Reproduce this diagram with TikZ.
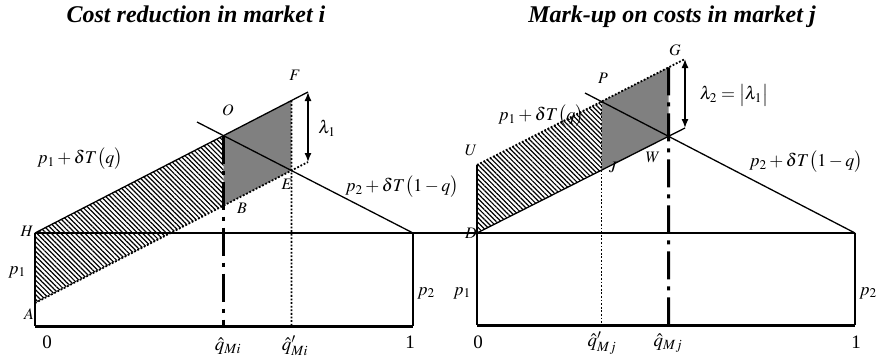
\documentclass[tikz,border=0pt]{standalone}
\usepackage{mathptmx}
\usepackage{fontspec}
\setmainfont{Liberation Serif}
\usetikzlibrary{patterns.meta,arrows.meta}
\begin{document}
\begin{tikzpicture}[x=1pt,y=-1pt,
  lbl/.style={font=\fontsize{16}{16}\selectfont, inner sep=0pt},
  eqn/.style={font=\fontsize{18}{18}\selectfont, inner sep=0pt},
  big/.style={font=\fontsize{19}{19}\selectfont, inner sep=0pt},
  ttl/.style={font=\fontsize{24}{24}\selectfont\bfseries\itshape, inner sep=0pt, anchor=base},
  solidln/.style={line width=1.3pt},
  dotln/.style={line width=1.8pt, dash pattern=on 1.8pt off 1.8pt},
  dashdot/.style={line width=3pt, dash pattern=on 28pt off 7pt on 4pt off 7pt},
  baseln/.style={line width=3pt},
  hatch/.style={pattern={Lines[angle=-45,distance=3.4pt,line width=1.2pt]}},
  dense/.style={fill=black!50},
  dbl/.style={line width=1.4pt, {Latex[length=9pt,width=7pt]}-{Latex[length=9pt,width=7pt]}}
]
\useasboundingbox (0,0) rectangle (879,360);
% ---------- left panel geometry
\coordinate (H) at (35,233);
\coordinate (A) at (35,303);
\coordinate (Fe) at (308,92);
\coordinate (Ae) at (308,162);
\coordinate (L1) at (197,122);
\coordinate (R1) at (413,233);
\coordinate (BL) at (35,326);
\coordinate (BR) at (413,326);
\coordinate (O) at (intersection of H--Fe and L1--R1);
\coordinate (E) at (intersection of A--Ae and L1--R1);
\coordinate (Ob) at (O |- BL);
\coordinate (Eb) at (E |- BL);
\coordinate (B) at (intersection of A--Ae and O--Ob);
\coordinate (F) at (intersection of H--Fe and E--Eb);
% ---------- right panel geometry
\coordinate (D) at (477,233);
\coordinate (U) at (477,165);
\coordinate (Ge) at (685,59);
\coordinate (We) at (685,128);
\coordinate (L2) at (585,93);
\coordinate (R2) at (855,233);
\coordinate (BL2) at (477,325);
\coordinate (BR2) at (855,325);
\coordinate (W) at (intersection of D--We and L2--R2);
\coordinate (P) at (intersection of U--Ge and L2--R2);
\coordinate (Wb) at (W |- BL2);
\coordinate (Pb) at (P |- BL2);
\coordinate (J) at (intersection of D--We and P--Pb);
\coordinate (G) at (intersection of U--Ge and W--Wb);
% ---------- fills
\fill[hatch] (H) -- (O) -- (B) -- (A) -- cycle;
\fill[dense] (O) -- (F) -- (E) -- (B) -- cycle;
\fill[hatch] (U) -- (P) -- (J) -- (D) -- cycle;
\fill[dense] (P) -- (G) -- (W) -- (J) -- cycle;
% ---------- left lines
\draw[solidln] (H) -- (Fe);
\draw[dotln] (A) -- (Ae);
\draw[solidln] (L1) -- (R1);
\draw[solidln] (H) -- (R2);
\draw[solidln] (H) -- (BL);
\draw[solidln] (R1) -- (BR);
\draw[baseln] (BL) -- (BR);
\draw[dashdot] (O) -- (Ob);
\draw[dotln] (F) -- (Eb);
\draw[dbl] (Fe) -- (Ae);
% ---------- right lines
\draw[solidln] (D) -- (We);
\draw[dotln] (U) -- (Ge);
\draw[solidln] (L2) -- (R2);
\draw[solidln] (U) -- (BL2);
\draw[solidln] (R2) -- (BR2);
\draw[baseln] (BL2) -- (BR2);
\draw[dashdot] (G) -- (Wb);
\draw[dotln] (P) -- (Pb);
\draw[dbl] (Ge) -- (We);
% ---------- left labels
\node[ttl] (t1) at (196,22) {Cost reduction in market i};
\node[eqn] (lq1) at (80,159) {$p_1+\delta T\bigl(q\bigr)$};
\node[lbl] (lO) at (228,110) {$O$};
\node[lbl] (lF) at (295,75) {$F$};
\node[eqn] (llam1) at (327,128) {$\lambda_1$};
\node[lbl] (lE) at (287,184) {$E$};
\node[lbl] (lB) at (242,208) {$B$};
\node[lbl] (lH) at (27,231) {$H$};
\node[eqn] (lp1) at (17,272) {$p_1$};
\node[lbl] (lA) at (29,314) {$A$};
\node[eqn] (lp2) at (426,293) {$p_2$};
\node[eqn] (lq2) at (402,187) {$p_2+\delta T\bigl(1-q\bigr)$};
\node[big] (l0) at (47,342) {0};
\node[big] (lqm) at (228,346) {$\hat{q}_{Mi}$};
\node[big] (lqpm) at (295,346) {$\hat{q}'_{Mi}$};
\node[big] (l1) at (410,342) {1};
% ---------- right labels
\node[ttl] (t2) at (672,22) {Mark-up on costs in market j};
\node[lbl] (rG) at (675,50) {$G$};
\node[lbl] (rP) at (603,78) {$P$};
\node[eqn] (rq1) at (541,116) {$p_1+\delta T\bigl(q\bigr)$};
\node[lbl] (rU) at (471,150) {$U$};
\node[lbl] (rW) at (653,157) {$W$};
\node[lbl] (rJ) at (613,167) {$J$};
\node[eqn] (rlam) at (734,95) {$\lambda_2=\bigl|\lambda_1\bigr|$};
\node[eqn] (rq2) at (806,162) {$p_2+\delta T\bigl(1-q\bigr)$};
\node[lbl] (rD) at (471,233) {$D$};
\node[eqn] (rp1) at (462,293) {$p_1$};
\node[eqn] (rp2) at (868,293) {$p_2$};
\node[big] (r0) at (478,342) {0};
\node[big] (rqpm) at (602,343) {$\hat{q}'_{Mj}$};
\node[big] (rqm) at (668,343) {$\hat{q}_{Mj}$};
\node[big] (r1) at (856,342) {1};
\end{tikzpicture}
\end{document}
